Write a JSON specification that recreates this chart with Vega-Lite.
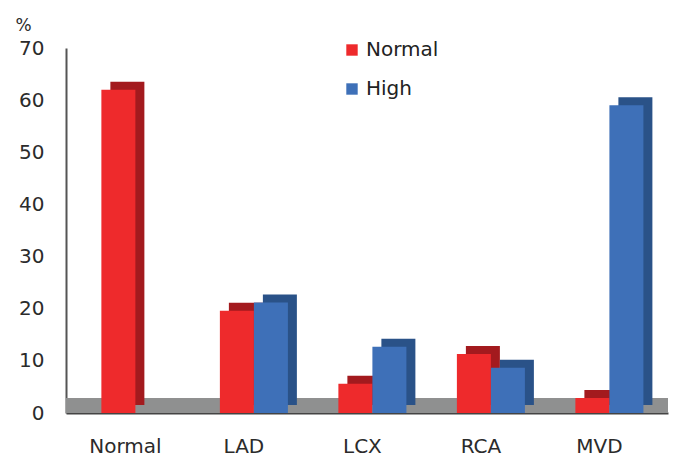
{
  "$schema": "https://vega.github.io/schema/vega-lite/v6.json",
  "width": 602,
  "height": 365,
  "autosize": {"type": "none"},
  "padding": {"left": 66, "top": 48, "right": 12, "bottom": 60},
  "background": "white",
  "config": {
    "view": {"stroke": null},
    "font": "DejaVu Sans",
    "axis": {"labelFont": "DejaVu Sans", "titleFont": "DejaVu Sans"},
    "legend": {"labelFont": "DejaVu Sans"}
  },
  "data": {
    "values": [
      {"category": "Normal", "series": "Normal", "value": 62},
      {"category": "Normal", "series": "High", "value": 0},
      {"category": "LAD", "series": "Normal", "value": 19.6},
      {"category": "LAD", "series": "High", "value": 21.2},
      {"category": "LCX", "series": "Normal", "value": 5.6},
      {"category": "LCX", "series": "High", "value": 12.7},
      {"category": "RCA", "series": "Normal", "value": 11.3},
      {"category": "RCA", "series": "High", "value": 8.7},
      {"category": "MVD", "series": "Normal", "value": 2.9},
      {"category": "MVD", "series": "High", "value": 59}
    ]
  },
  "encoding": {
    "x": {
      "field": "category",
      "type": "nominal",
      "sort": ["Normal", "LAD", "LCX", "RCA", "MVD"],
      "scale": {"paddingInner": 0.426, "paddingOuter": 0.253, "align": 0.59},
      "axis": {
        "title": null,
        "labelAngle": 0,
        "labelFontSize": 20,
        "labelColor": "#2b2b2b",
        "labelPadding": 23,
        "labelOffset": -10,
        "ticks": false,
        "domainColor": "#444444",
        "domainWidth": 2
      }
    },
    "y": {
      "field": "value",
      "type": "quantitative",
      "scale": {"domain": [0, 70], "nice": false},
      "axis": {
        "title": "%",
        "titleAngle": 0,
        "titleX": -43,
        "titleY": -14,
        "titleFontSize": 17,
        "titleFontWeight": "normal",
        "titleColor": "#2b2b2b",
        "values": [0, 10, 20, 30, 40, 50, 60, 70],
        "labelFontSize": 20,
        "labelColor": "#2b2b2b",
        "labelPadding": 22,
        "ticks": false,
        "grid": false,
        "domainColor": "#555555",
        "domainWidth": 2
      }
    }
  },
  "layer": [
    {
      "mark": {"type": "rect", "color": "#8f9090"},
      "encoding": {
        "x": null,
        "y": {"datum": 0, "type": "quantitative"},
        "y2": {"datum": 2.8}
      }
    },
    {
      "mark": {"type": "bar", "yOffset": -8},
      "encoding": {
        "xOffset": {"field": "series", "sort": ["Normal", "High"], "scale": {"paddingInner": 0, "range": [9, 77]}},
        "color": {
          "field": "series",
          "type": "nominal",
          "scale": {"domain": ["Normal", "High"], "range": ["#a31a1e", "#2a5288"]},
          "legend": null
        }
      }
    },
    {
      "mark": {"type": "bar"},
      "encoding": {
        "xOffset": {"field": "series", "sort": ["Normal", "High"], "scale": {"paddingInner": 0}},
        "color": {
          "field": "series",
          "type": "nominal",
          "sort": ["Normal", "High"],
          "scale": {"domain": ["Normal", "High"], "range": ["#ee2a2c", "#3e70b8"]},
          "legend": {
            "title": null,
            "orient": "none",
            "legendX": 276,
            "legendY": -8,
            "symbolType": "square",
            "symbolSize": 130,
            "symbolStrokeWidth": 0,
            "labelFontSize": 20,
            "labelColor": "#222222",
            "rowPadding": 19,
            "labelOffset": 4
          }
        }
      }
    }
  ],
  "resolve": {"scale": {"color": "independent", "xOffset": "independent"}}
}
